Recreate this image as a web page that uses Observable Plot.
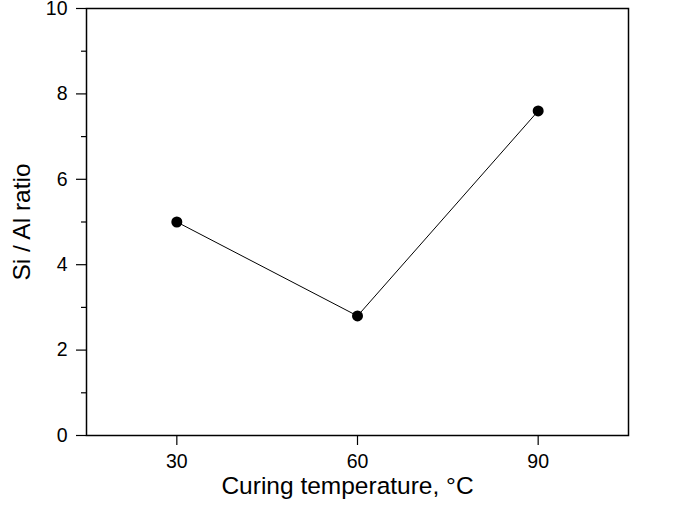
<!DOCTYPE html>
<html>
<head>
<meta charset="utf-8">
<script src="https://cdn.jsdelivr.net/npm/d3@7"></script>
<script src="https://cdn.jsdelivr.net/npm/@observablehq/plot@0.6"></script>
<style>
  html, body { margin: 0; padding: 0; background: #fff; }
  #chart svg { display: block; font-family: "Liberation Sans", Arial, sans-serif; overflow: visible; }
</style>
</head>
<body>
<div id="chart"></div>
<script>
const temperatures = [30, 60, 90];
const ratios = [5.0, 2.8, 7.6];
const xTicks = [30, 60, 90];
const yTicks = [0, 2, 4, 6, 8, 10];
const yMinorTicks = [1, 3, 5, 7, 9];
const xTitle = "Curing temperature, °C";
const yTitle = "Si / Al ratio";

const data = temperatures.map((t, i) => ({t, r: ratios[i]}));

const chart = Plot.plot({
  width: 680,
  height: 512,
  marginLeft: 86,
  marginRight: 52,
  marginTop: 8,
  marginBottom: 77,
  style: {fontFamily: "'Liberation Sans', Arial, sans-serif", fontSize: "19.5px", background: "#fff", color: "#000", overflow: "visible"},
  x: {domain: [15, 105]},
  y: {domain: [0, 10]},
  marks: [
    Plot.axisY({ticks: yMinorTicks, tickSize: 5, tickFormat: () => "", label: null, strokeWidth: 1.2}),
    Plot.axisY({ticks: yTicks, tickSize: 10, tickPadding: 9, fontSize: 19.5, label: null, strokeWidth: 1.2}),
    Plot.axisX({ticks: xTicks, tickSize: 10, tickPadding: 9, fontSize: 19.5, label: null, strokeWidth: 1.2}),
    Plot.frame({stroke: "#000", strokeWidth: 1.5}),
    Plot.line(data, {x: "t", y: "r", stroke: "#000", strokeWidth: 1}),
    Plot.dot(data, {x: "t", y: "r", r: 5.5, fill: "#000", stroke: "none"}),
    Plot.text([xTitle], {frameAnchor: "bottom", text: d => d, dy: 58, dx: -10, fontSize: 24.5, fill: "#000"}),
    Plot.text([yTitle], {frameAnchor: "left", text: d => d, rotate: -90, textAnchor: "middle", dx: -64, fontSize: 24.5, fill: "#000"})
  ]
});
document.getElementById("chart").appendChild(chart);
</script>
</body>
</html>
